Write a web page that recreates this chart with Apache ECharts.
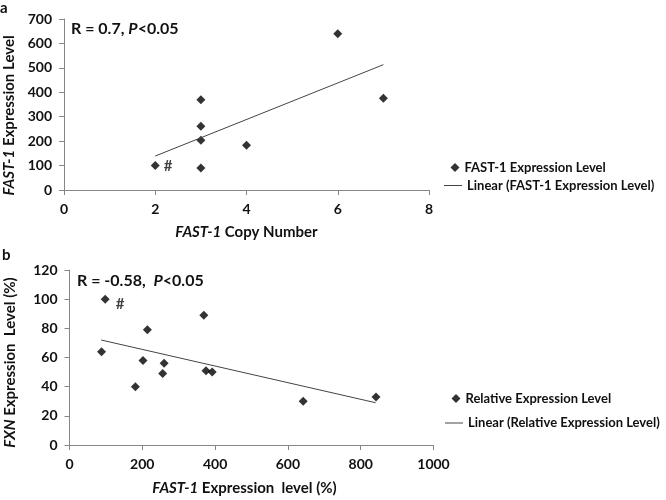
<!DOCTYPE html>
<html>
<head>
<meta charset="utf-8">
<script src="https://cdn.jsdelivr.net/npm/echarts@6/dist/echarts.min.js"></script>
<style>html,body{margin:0;padding:0;background:#fff;}#c{width:666px;height:500px;}</style>
</head>
<body>
<div id="c"></div>
<script>
// Panel a: FAST-1 copy number vs FAST-1 expression level
var copyNumberA = [2, 3, 3, 3, 3, 4, 6, 7];
var expressionA = [100, 369, 261, 204, 90, 183, 640, 376];
var flaggedA = 0; // '#' marked sample
var trendA = [[2, 139], [7, 513]];
var xTicksA = [0, 2, 4, 6, 8];
var yTicksA = [0, 100, 200, 300, 400, 500, 600, 700];

// Panel b: FAST-1 expression level vs FXN expression level
var fast1ExprB = [98, 88, 181, 202, 214, 256, 260, 369, 375, 392, 642, 842];
var fxnExprB   = [100, 64, 40, 58, 79, 49, 56, 89, 51, 50, 30, 33];
var flaggedB = 0;
var trendB = [[87, 72], [841, 29]];
var xTicksB = [0, 200, 400, 600, 800, 1000];
var yTicksB = [0, 20, 40, 60, 80, 100, 120];

var FONT = 'Lato';
var TXT = '#111';
var AX = '#868686';

function pts(xs, ys, flag, off) {
  return xs.map(function (x, i) {
    var d = { value: [x, ys[i]] };
    if (i === flag) {
      d.label = { show: true, formatter: '#', position: 'right', distance: 4, offset: off,
        fontFamily: FONT, fontWeight: 'bold', fontSize: 15, color: TXT };
    }
    return d;
  });
}

function axisCommon(min, max, ticks) {
  return {
    type: 'value', min: min, max: max, interval: ticks[1] - ticks[0],
    splitLine: { show: false },
    axisLine: { show: true, onZero: false, lineStyle: { color: AX, width: 1 } },
    axisTick: { show: true, inside: false, length: 5, lineStyle: { color: AX } },
    axisLabel: { fontFamily: FONT, fontWeight: 'bold', fontSize: 14, color: TXT, margin: 12,
      formatter: function (v) { return String(v); } }
  };
}

function nameStyle(pad) {
  return {
    fontFamily: FONT, fontWeight: 'bold', fontSize: 15, color: TXT, padding: pad,
    rich: { i: { fontFamily: FONT, fontWeight: 'bold', fontStyle: 'italic', fontSize: 15, color: TXT } }
  };
}

var xa0 = axisCommon(xTicksA[0], xTicksA[xTicksA.length - 1], xTicksA);
xa0.gridIndex = 0; xa0.name = '{i|FAST-1} Copy Number'; xa0.nameLocation = 'middle'; xa0.nameGap = 35; xa0.nameTextStyle = nameStyle([0, 0, 0, 0]);
var ya0 = axisCommon(yTicksA[0], yTicksA[yTicksA.length - 1], yTicksA);
ya0.gridIndex = 0; ya0.name = '{i|FAST-1} Expression Level'; ya0.nameLocation = 'middle'; ya0.nameGap = 46; ya0.nameRotate = 90; ya0.nameTextStyle = nameStyle([0, 22, 0, 0]);

var xa1 = axisCommon(xTicksB[0], xTicksB[xTicksB.length - 1], xTicksB);
xa1.gridIndex = 1; xa1.name = '{i|FAST-1} Expression  level (%)'; xa1.nameLocation = 'middle'; xa1.nameGap = 36; xa1.nameTextStyle = nameStyle([0, 14, 0, 0]);
var ya1 = axisCommon(yTicksB[0], yTicksB[yTicksB.length - 1], yTicksB);
ya1.gridIndex = 1; ya1.name = '{i|FXN} Expression  Level (%)'; ya1.nameLocation = 'middle'; ya1.nameGap = 52; ya1.nameRotate = 90; ya1.nameTextStyle = nameStyle([0, 10, 0, 0]);

var legendText = { fontFamily: FONT, fontWeight: 'bold', fontSize: 13, color: TXT };

var option = {
  backgroundColor: '#fff',
  animation: false,
  grid: [
    { left: 64, top: 19, width: 365, height: 171, outerBoundsMode: 'none' },
    { left: 69.5, top: 270, width: 364, height: 175, outerBoundsMode: 'none' }
  ],
  xAxis: [xa0, xa1],
  yAxis: [ya0, ya1],
  legend: [
    { data: [{ name: 'FAST-1 Expression Level', icon: 'diamond' }], left: 450.5, top: 161, itemWidth: 9, itemHeight: 9, textStyle: legendText, padding: 0 },
    { data: [{ name: 'Linear (FAST-1 Expression Level)', icon: 'rect' }], left: 444, top: 179, itemWidth: 18, itemHeight: 1, textStyle: legendText, padding: 0 },
    { data: [{ name: 'Relative Expression Level', icon: 'diamond' }], left: 451.5, top: 392, itemWidth: 9, itemHeight: 9, textStyle: legendText, padding: 0 },
    { data: [{ name: 'Linear (Relative Expression Level)', icon: 'rect' }], left: 445, top: 416.5, itemWidth: 18, itemHeight: 1, textStyle: legendText, padding: 0 }
  ],
  graphic: [
    { type: 'text', left: 0, top: 1, style: { text: 'a', fontFamily: FONT, fontWeight: 'bold', fontSize: 15, fill: TXT } },
    { type: 'text', left: 2, top: 248, style: { text: 'b', fontFamily: FONT, fontWeight: 'bold', fontSize: 15, fill: TXT } },
    { type: 'text', left: 71, top: 21, style: {
        text: '{n|R = 0.7, }{i|P}{n|<0.05}',
        rich: { n: { fontFamily: FONT, fontWeight: 'bold', fontSize: 16, fill: TXT },
                i: { fontFamily: FONT, fontWeight: 'bold', fontStyle: 'italic', fontSize: 16, fill: TXT } } } },
    { type: 'text', left: 77, top: 272.5, style: {
        text: '{n|R = -0.58,  }{i|P}{n|<0.05}',
        rich: { n: { fontFamily: FONT, fontWeight: 'bold', fontSize: 16, fill: TXT },
                i: { fontFamily: FONT, fontWeight: 'bold', fontStyle: 'italic', fontSize: 16, fill: TXT } } } }
  ],
  series: [
    { name: 'FAST-1 Expression Level', type: 'scatter', xAxisIndex: 0, yAxisIndex: 0,
      symbol: 'diamond', symbolSize: 9, itemStyle: { color: '#000' },
      data: pts(copyNumberA, expressionA, flaggedA, [0, 1]) },
    { name: 'Linear (FAST-1 Expression Level)', type: 'line', xAxisIndex: 0, yAxisIndex: 0,
      symbol: 'none', lineStyle: { color: '#444', width: 1 }, itemStyle: { color: '#444' },
      data: trendA },
    { name: 'Relative Expression Level', type: 'scatter', xAxisIndex: 1, yAxisIndex: 1,
      symbol: 'diamond', symbolSize: 9, itemStyle: { color: '#000' },
      data: pts(fast1ExprB, fxnExprB, flaggedB, [2, 5]) },
    { name: 'Linear (Relative Expression Level)', type: 'line', xAxisIndex: 1, yAxisIndex: 1,
      symbol: 'none', lineStyle: { color: '#444', width: 1 }, itemStyle: { color: '#444' },
      data: trendB }
  ]
};

var chart = echarts.init(document.getElementById('c'), null, { renderer: 'canvas' });
chart.setOption(option);
</script>
</body>
</html>
